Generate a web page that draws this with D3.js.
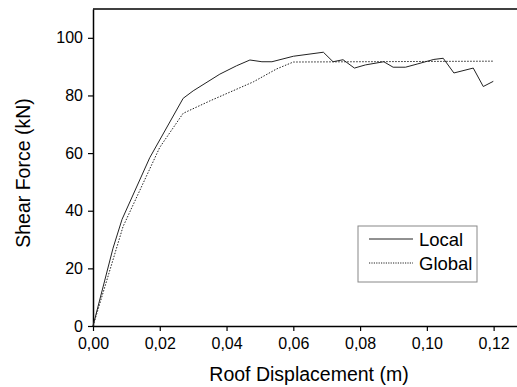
<!DOCTYPE html>
<html>
<head>
<meta charset="utf-8">
<script src="https://cdn.jsdelivr.net/npm/d3@7"></script>
<style>
  body { margin: 0; background: #fff; }
  text { font-family: "Liberation Sans", Arial, sans-serif; fill: #000; }
</style>
</head>
<body>
<div id="chart"></div>
<script>
// roof displacement (m) vs shear force (kN)
const localX = [0, 0.006, 0.0087, 0.017, 0.027, 0.030, 0.038, 0.043, 0.047, 0.0506, 0.0536, 0.060, 0.069, 0.0719, 0.0749, 0.0783, 0.0816, 0.0871, 0.0899, 0.0936, 0.0971, 0.1021, 0.1049, 0.1081, 0.1139, 0.1169, 0.1199];
const localY = [0, 27, 37, 58.4, 79, 81.6, 87.4, 90.3, 92.3, 91.7, 91.7, 93.6, 95, 91.7, 92.4, 89.5, 90.6, 91.7, 89.8, 89.8, 90.9, 92.5, 92.9, 87.8, 89.5, 83.1, 84.9];

const globalX = [0, 0.009, 0.020, 0.027, 0.035, 0.048, 0.055, 0.060, 0.120];
const globalY = [0, 34.5, 62, 73.8, 78.1, 84.7, 89.2, 91.6, 91.9];

const xTicks = [0, 0.02, 0.04, 0.06, 0.08, 0.10, 0.12];
const yTicks = [0, 20, 40, 60, 80, 100];

const seriesNames = ['Local', 'Global'];

const W = 517, H = 387;
const margin = { top: 9, right: 0, bottom: 61, left: 93 };

const svg = d3.select('#chart')
  .append('svg')
  .attr('width', W)
  .attr('height', H);

const x = d3.scaleLinear().domain([0, 0.127]).range([margin.left, W - margin.right]);
const y = d3.scaleLinear().domain([0, 110]).range([H - margin.bottom, margin.top]);

const fmt = d => d3.format('.2f')(d).replace('.', ',');

// axes
const xAxis = svg.append('g')
  .attr('transform', 'translate(0,' + y(0) + ')')
  .call(d3.axisBottom(x).tickValues(xTicks).tickFormat(fmt).tickSize(5).tickSizeOuter(0));

const yAxis = svg.append('g')
  .attr('transform', 'translate(' + x(0) + ',0)')
  .call(d3.axisLeft(y).tickValues(yTicks).tickSize(5).tickSizeOuter(0));

[xAxis, yAxis].forEach(a => {
  a.select('.domain').attr('stroke', '#000').attr('stroke-width', 1.5);
  a.selectAll('.tick line').attr('stroke', '#000').attr('stroke-width', 1.2);
  a.selectAll('.tick text')
    .style('font-family', '"Liberation Sans", Arial, sans-serif')
    .style('font-size', '16px')
    .attr('fill', '#000');
});
xAxis.selectAll('.tick text').attr('y', 8).attr('dy', '0.95em');
yAxis.selectAll('.tick text').attr('x', -10);

// top frame line
svg.append('line')
  .attr('x1', x(0)).attr('x2', W)
  .attr('y1', y(110)).attr('y2', y(110))
  .attr('stroke', '#000').attr('stroke-width', 1.5);

// axis titles
svg.append('text')
  .text('Roof Displacement (m)')
  .attr('x', 309)
  .attr('y', 381)
  .attr('text-anchor', 'middle')
  .style('font-size', '19.5px');

svg.append('text')
  .text('Shear Force (kN)')
  .attr('transform', 'translate(30,173) rotate(-90)')
  .attr('text-anchor', 'middle')
  .style('font-size', '19.5px');

// lines
const line = d3.line().x(d => x(d[0])).y(d => y(d[1]));

svg.append('path')
  .datum(localX.map((v, i) => [v, localY[i]]))
  .attr('d', line)
  .attr('fill', 'none')
  .attr('stroke', '#222')
  .attr('stroke-width', 1);

svg.append('path')
  .datum(globalX.map((v, i) => [v, globalY[i]]))
  .attr('d', line)
  .attr('fill', 'none')
  .attr('stroke', '#222')
  .attr('stroke-width', 1)
  .attr('stroke-dasharray', '1.5,1.5');

// legend
const legend = svg.append('g').attr('transform', 'translate(358,226)');

legend.append('rect')
  .attr('x', 0).attr('y', 0)
  .attr('width', 119).attr('height', 56)
  .attr('fill', '#fff')
  .attr('stroke', '#888')
  .attr('stroke-width', 1);

seriesNames.forEach((name, i) => {
  const ly = 13 + i * 24;
  legend.append('line')
    .attr('x1', 11).attr('x2', 55)
    .attr('y1', ly).attr('y2', ly)
    .attr('stroke', '#222')
    .attr('stroke-width', 1)
    .attr('stroke-dasharray', i === 0 ? null : '1.2,1.2');
  legend.append('text')
    .text(name)
    .attr('x', 61)
    .attr('y', ly + 7)
    .style('font-size', '18.5px');
});
</script>
</body>
</html>
